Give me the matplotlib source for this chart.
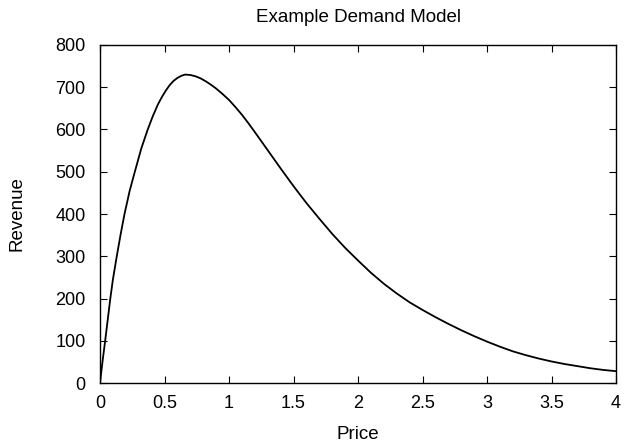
import matplotlib
matplotlib.use("Agg")
import matplotlib.pyplot as plt

plt.rcParams['font.family'] = ['Liberation Sans', 'DejaVu Sans']

price = [0.0, 0.02, 0.04, 0.06, 0.08, 0.10, 0.13, 0.16, 0.19, 0.23, 0.27, 0.32,
         0.37, 0.41, 0.45, 0.48, 0.51, 0.54, 0.57, 0.60, 0.63, 0.66, 0.70, 0.74,
         0.78, 0.82, 0.86, 0.90, 0.95, 1.0, 1.05, 1.1, 1.15, 1.2, 1.3, 1.4, 1.5,
         1.6, 1.7, 1.8, 1.9, 2.0, 2.1, 2.2, 2.3, 2.4, 2.5, 2.6, 2.7, 2.8, 2.9,
         3.0, 3.1, 3.2, 3.3, 3.4, 3.5, 3.6, 3.7, 3.8, 3.9, 4.0]
revenue = [0, 52, 100, 150, 200, 245, 300, 352, 400, 455, 500, 555,
           600, 632, 660, 677, 692, 705, 715, 722, 727, 730, 729, 726,
           721, 714, 706, 697, 684, 670, 653, 635, 615, 594, 551, 508, 466,
           426, 389, 353, 320, 290, 261, 235, 212, 191, 173, 156, 140, 125, 111,
           98, 86, 75, 66, 58, 51, 45, 40, 35, 31, 28]

xticks = [0, 0.5, 1, 1.5, 2, 2.5, 3, 3.5, 4]
xtick_labels = ['0', '0.5', '1', '1.5', '2', '2.5', '3', '3.5', '4']
yticks = [0, 100, 200, 300, 400, 500, 600, 700, 800]

fig = plt.figure(figsize=(6.25, 4.45), dpi=100)
left, bottom, width, height = 0.16, 0.1393, 0.8256, 0.7596
ax = fig.add_axes([left, bottom, width, height])

ax.plot(price, revenue, color='black', linewidth=1.3,
        solid_joinstyle='round', solid_capstyle='round')

ax.set_xlim(0, 4)
ax.set_ylim(0, 800)
ax.set_xticks(xticks)
ax.set_xticklabels(xtick_labels)
ax.set_yticks(yticks)

ax.tick_params(direction='in', length=5, width=0.8, top=True, right=True,
               labelsize=13, colors='black')
ax.tick_params(axis='x', pad=8.5)
ax.tick_params(axis='y', pad=10.5)
for s in ax.spines.values():
    s.set_linewidth(1.0)

cx = left + width / 2
fig.text(cx, 1 - 22 / 445, 'Example Demand Model', fontsize=13.5,
         ha='center', va='baseline')
fig.text(cx, 1 - 439 / 445, 'Price', fontsize=13.5, ha='center', va='baseline')
fig.text(17 / 625, bottom + height / 2, 'Revenue', fontsize=13.5,
         rotation=90, ha='center', va='center')

fig.savefig('out.png', dpi=100)
